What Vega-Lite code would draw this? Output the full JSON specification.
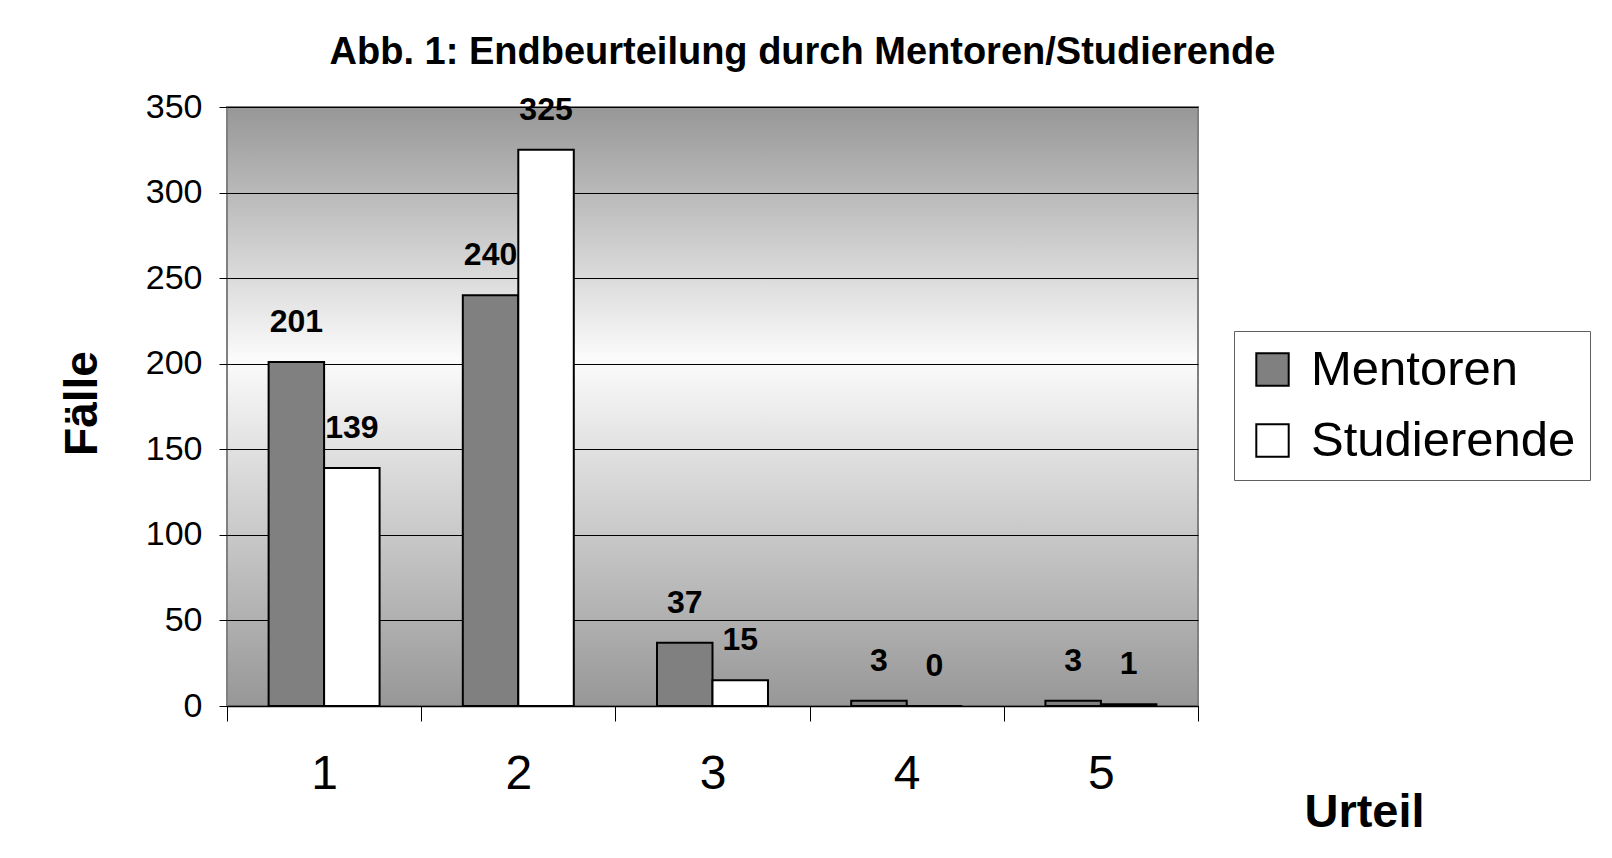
{
  "$schema": "https://vega.github.io/schema/vega-lite/v6.json",
  "width": 971,
  "height": 599,
  "autosize": {"type": "none"},
  "padding": {"left": 227, "top": 107, "right": 414, "bottom": 152},
  "background": "white",
  "title": {
    "text": "Abb. 1: Endbeurteilung durch Mentoren/Studierende",
    "font": "Liberation Sans",
    "fontSize": 38,
    "fontWeight": "bold",
    "anchor": "middle",
    "dx": 90,
    "offset": 18,
    "color": "black"
  },
  "data": {
    "values": [
      {"Urteil": 1, "Gruppe": "Mentoren", "Faelle": 201},
      {"Urteil": 1, "Gruppe": "Studierende", "Faelle": 139},
      {"Urteil": 2, "Gruppe": "Mentoren", "Faelle": 240},
      {"Urteil": 2, "Gruppe": "Studierende", "Faelle": 325},
      {"Urteil": 3, "Gruppe": "Mentoren", "Faelle": 37},
      {"Urteil": 3, "Gruppe": "Studierende", "Faelle": 15},
      {"Urteil": 4, "Gruppe": "Mentoren", "Faelle": 3},
      {"Urteil": 4, "Gruppe": "Studierende", "Faelle": 0},
      {"Urteil": 5, "Gruppe": "Mentoren", "Faelle": 3},
      {"Urteil": 5, "Gruppe": "Studierende", "Faelle": 1}
    ]
  },
  "encoding": {
    "x": {
      "field": "Urteil",
      "type": "ordinal",
      "scale": {"paddingInner": 0, "paddingOuter": 0},
      "axis": {
        "title": "Urteil",
        "labelAngle": 0,
        "labelFontSize": 48,
        "labelBaseline": "middle",
        "labelPadding": 53,
        "tickBand": "extent",
        "tickSize": 15,
        "tickColor": "black",
        "domainColor": "black",
        "domainWidth": 1.5,
        "titleFontSize": 47,
        "titleFontWeight": "bold",
        "titleAlign": "center",
        "titleBaseline": "middle",
        "titleX": 1137,
        "titleY": 106
      }
    },
    "xOffset": {
      "field": "Gruppe",
      "type": "nominal",
      "scale": {"paddingInner": 0, "paddingOuter": 0.75}
    },
    "y": {
      "field": "Faelle",
      "type": "quantitative",
      "scale": {"domain": [0, 350], "nice": false},
      "axis": {
        "title": "Fälle",
        "values": [0, 50, 100, 150, 200, 250, 300, 350],
        "labelFontSize": 34,
        "labelPadding": 17,
        "tickSize": 8,
        "tickColor": "black",
        "domain": false,
        "grid": true,
        "gridColor": "black",
        "gridWidth": 1,
        "titleFontSize": 46,
        "titleFontWeight": "bold",
        "titleAlign": "center",
        "titleBaseline": "middle",
        "titleAngle": -90,
        "titleX": -145,
        "titleY": 296
      }
    }
  },
  "layer": [
    {
      "mark": {"type": "bar", "stroke": "black", "strokeWidth": 2},
      "encoding": {
        "color": {
          "field": "Gruppe",
          "type": "nominal",
          "scale": {"domain": ["Mentoren", "Studierende"], "range": ["#808080", "#ffffff"]},
          "legend": {
            "title": null,
            "orient": "none",
            "legendX": 1007,
            "legendY": 224,
            "symbolType": "square",
            "symbolSize": 1050,
            "symbolStrokeColor": "black",
            "symbolStrokeWidth": 2,
            "symbolOpacity": 1,
            "labelFontSize": 49,
            "labelLimit": 500,
            "labelColor": "black",
            "labelOffset": 14,
            "rowPadding": 21,
            "padding": 14,
            "strokeColor": "#606060",
            "fillColor": "white"
          }
        }
      }
    },
    {
      "mark": {"type": "text", "dy": -40, "fontWeight": "bold", "fontSize": 32, "baseline": "middle", "color": "black"},
      "encoding": {"text": {"field": "Faelle", "type": "quantitative"}}
    }
  ],
  "config": {
    "font": "Liberation Sans",
    "view": {
      "fill": {
        "gradient": "linear",
        "x1": 0, "y1": 0, "x2": 0, "y2": 1,
        "stops": [
          {"offset": 0, "color": "#979797"},
          {"offset": 0.42, "color": "#fbfbfb"},
          {"offset": 1, "color": "#979797"}
        ]
      },
      "stroke": "#808080",
      "strokeWidth": 2
    },
    "axis": {
      "labelColor": "black",
      "titleColor": "black",
      "labelFont": "Liberation Sans",
      "titleFont": "Liberation Sans"
    }
  }
}
